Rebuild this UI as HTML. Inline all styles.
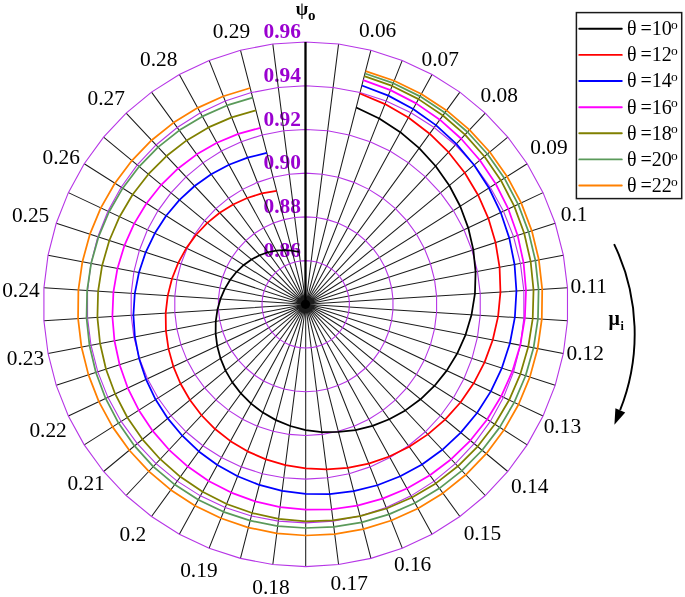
<!DOCTYPE html>
<html><head><meta charset="utf-8"><title>Polar plot</title>
<style>html,body{margin:0;padding:0;background:#fff}svg{display:block}</style></head>
<body>
<svg width="685" height="597" viewBox="0 0 685 597">
<rect width="685" height="597" fill="#fff"/>
<g font-family="'Liberation Serif', serif" font-size="21.4" font-weight="bold" fill="#9a00d0" text-anchor="end">
<text x="300.9" y="256.7">0.86</text>
<text x="300.9" y="213.0">0.88</text>
<text x="300.9" y="169.2">0.90</text>
<text x="300.9" y="125.5">0.92</text>
<text x="300.9" y="81.8">0.94</text>
<text x="300.9" y="38.1">0.96</text>
</g>
<path d="M305.7 304.3L338.57 44.07M305.7 304.3L370.93 50.24M305.7 304.3L402.26 60.42M305.7 304.3L432.06 74.44M305.7 304.3L459.88 92.09M305.7 304.3L485.26 113.09M305.7 304.3L507.81 137.10M305.7 304.3L527.17 163.75M305.7 304.3L543.04 192.62M305.7 304.3L555.16 223.24M305.7 304.3L563.35 255.15M305.7 304.3L567.48 287.83M305.7 304.3L567.48 320.77M305.7 304.3L563.35 353.45M305.7 304.3L555.16 385.36M305.7 304.3L543.04 415.98M305.7 304.3L527.17 444.85M305.7 304.3L507.81 471.50M305.7 304.3L485.26 495.51M305.7 304.3L459.88 516.51M305.7 304.3L432.06 534.16M305.7 304.3L402.26 548.18M305.7 304.3L370.93 558.36M305.7 304.3L338.57 564.53M305.7 304.3L305.70 566.60M305.7 304.3L272.83 564.53M305.7 304.3L240.47 558.36M305.7 304.3L209.14 548.18M305.7 304.3L179.34 534.16M305.7 304.3L151.52 516.51M305.7 304.3L126.14 495.51M305.7 304.3L103.59 471.50M305.7 304.3L84.23 444.85M305.7 304.3L68.36 415.98M305.7 304.3L56.24 385.36M305.7 304.3L48.05 353.45M305.7 304.3L43.92 320.77M305.7 304.3L43.92 287.83M305.7 304.3L48.05 255.15M305.7 304.3L56.24 223.24M305.7 304.3L68.36 192.62M305.7 304.3L84.23 163.75M305.7 304.3L103.59 137.10M305.7 304.3L126.14 113.09M305.7 304.3L151.52 92.09M305.7 304.3L179.34 74.44M305.7 304.3L209.14 60.42M305.7 304.3L240.47 50.24M305.7 304.3L272.83 44.07" stroke="#1c1c1c" stroke-width="1.05" fill="none"/>
<polygon points="305.70,260.58 311.18,260.93 316.57,261.96 321.79,263.65 326.76,265.99 331.40,268.93 335.63,272.43 339.38,276.43 342.61,280.88 345.26,285.69 347.28,290.79 348.64,296.11 349.33,301.56 349.33,307.04 348.64,312.49 347.28,317.81 345.26,322.91 342.61,327.72 339.38,332.17 335.63,336.17 331.40,339.67 326.76,342.61 321.79,344.95 316.57,346.64 311.18,347.67 305.70,348.02 300.22,347.67 294.83,346.64 289.61,344.95 284.64,342.61 280.00,339.67 275.77,336.17 272.02,332.17 268.79,327.72 266.14,322.91 264.12,317.81 262.76,312.49 262.07,307.04 262.07,301.56 262.76,296.11 264.12,290.79 266.14,285.69 268.79,280.88 272.02,276.43 275.77,272.43 280.00,268.93 284.64,265.99 289.61,263.65 294.83,261.96 300.22,260.93" fill="none" stroke="#b635e6" stroke-width="1.1"/>
<polygon points="305.70,216.87 316.66,217.56 327.44,219.61 337.89,223.01 347.82,227.68 357.09,233.56 365.55,240.56 373.07,248.57 379.52,257.45 384.81,267.07 388.85,277.28 391.58,287.92 392.96,298.81 392.96,309.79 391.58,320.68 388.85,331.32 384.81,341.53 379.52,351.15 373.07,360.03 365.55,368.04 357.09,375.04 347.82,380.92 337.89,385.59 327.44,388.99 316.66,391.04 305.70,391.73 294.74,391.04 283.96,388.99 273.51,385.59 263.58,380.92 254.31,375.04 245.85,368.04 238.33,360.03 231.88,351.15 226.59,341.53 222.55,331.32 219.82,320.68 218.44,309.79 218.44,298.81 219.82,287.92 222.55,277.28 226.59,267.07 231.88,257.45 238.33,248.57 245.85,240.56 254.31,233.56 263.58,227.68 273.51,223.01 283.96,219.61 294.74,217.56" fill="none" stroke="#b635e6" stroke-width="1.1"/>
<polygon points="305.70,173.15 322.14,174.18 338.32,177.27 353.98,182.36 368.88,189.37 382.79,198.20 395.48,208.70 406.75,220.70 416.43,234.03 424.37,248.46 430.43,263.77 434.53,279.72 436.59,296.07 436.59,312.53 434.53,328.88 430.43,344.83 424.37,360.14 416.43,374.57 406.75,387.90 395.48,399.90 382.79,410.40 368.88,419.23 353.98,426.24 338.32,431.33 322.14,434.42 305.70,435.45 289.26,434.42 273.08,431.33 257.42,426.24 242.52,419.23 228.61,410.40 215.92,399.90 204.65,387.90 194.97,374.57 187.03,360.14 180.97,344.83 176.87,328.88 174.81,312.53 174.81,296.07 176.87,279.72 180.97,263.77 187.03,248.46 194.97,234.03 204.65,220.70 215.92,208.70 228.61,198.20 242.52,189.37 257.42,182.36 273.08,177.27 289.26,174.18" fill="none" stroke="#b635e6" stroke-width="1.1"/>
<polygon points="305.70,129.43 327.62,130.81 349.19,134.93 370.07,141.71 389.94,151.06 408.48,162.83 425.40,176.83 440.44,192.84 453.34,210.60 463.92,229.85 472.01,250.26 477.47,271.53 480.22,293.32 480.22,315.28 477.47,337.07 472.01,358.34 463.92,378.75 453.34,398.00 440.44,415.76 425.40,431.77 408.48,445.77 389.94,457.54 370.07,466.89 349.19,473.67 327.62,477.79 305.70,479.17 283.78,477.79 262.21,473.67 241.33,466.89 221.46,457.54 202.92,445.77 186.00,431.77 170.96,415.76 158.06,398.00 147.48,378.75 139.39,358.34 133.93,337.07 131.18,315.28 131.18,293.32 133.93,271.53 139.39,250.26 147.48,229.85 158.06,210.60 170.96,192.84 186.00,176.83 202.92,162.83 221.46,151.06 241.33,141.71 262.21,134.93 283.78,130.81" fill="none" stroke="#b635e6" stroke-width="1.1"/>
<polygon points="305.70,85.72 333.10,87.44 360.06,92.58 386.17,101.07 411.00,112.75 434.18,127.46 455.33,144.96 474.12,164.97 490.26,187.18 503.48,211.23 513.59,236.75 520.41,263.34 523.85,290.58 523.85,318.02 520.41,345.26 513.59,371.85 503.48,397.37 490.26,421.42 474.12,443.63 455.33,463.64 434.18,481.14 411.00,495.85 386.17,507.53 360.06,516.02 333.10,521.16 305.70,522.88 278.30,521.16 251.34,516.02 225.23,507.53 200.40,495.85 177.22,481.14 156.07,463.64 137.28,443.63 121.14,421.42 107.92,397.37 97.81,371.85 90.99,345.26 87.55,318.02 87.55,290.58 90.99,263.34 97.81,236.75 107.92,211.23 121.14,187.18 137.28,164.97 156.07,144.96 177.22,127.46 200.40,112.75 225.23,101.07 251.34,92.58 278.30,87.44" fill="none" stroke="#b635e6" stroke-width="1.1"/>
<polygon points="305.70,42.00 338.57,44.07 370.93,50.24 402.26,60.42 432.06,74.44 459.88,92.09 485.26,113.09 507.81,137.10 527.17,163.75 543.04,192.62 555.16,223.24 563.35,255.15 567.48,287.83 567.48,320.77 563.35,353.45 555.16,385.36 543.04,415.98 527.17,444.85 507.81,471.50 485.26,495.51 459.88,516.51 432.06,534.16 402.26,548.18 370.93,558.36 338.57,564.53 305.70,566.60 272.83,564.53 240.47,558.36 209.14,548.18 179.34,534.16 151.52,516.51 126.14,495.51 103.59,471.50 84.23,444.85 68.36,415.98 56.24,385.36 48.05,353.45 43.92,320.77 43.92,287.83 48.05,255.15 56.24,223.24 68.36,192.62 84.23,163.75 103.59,137.10 126.14,113.09 151.52,92.09 179.34,74.44 209.14,60.42 240.47,50.24 272.83,44.07" fill="none" stroke="#b635e6" stroke-width="1.1"/>
<polyline points="356.21,107.58 379.23,118.58 400.31,132.20 419.17,148.13 435.55,166.02 449.28,185.52 460.20,206.25 468.24,227.82 473.35,249.83 475.57,271.90 474.94,293.65 471.55,314.73 465.56,334.79 457.21,353.53 446.73,370.66 434.40,385.98 420.50,399.27 405.34,410.40 389.23,419.27 372.51,425.82 355.48,430.04 338.48,431.96 321.84,432.08 305.70,430.10 290.32,426.02 275.96,420.12 262.83,412.59 251.09,403.63 240.90,393.49 232.37,382.39 225.55,370.60 220.50,358.37 217.22,345.94 215.65,333.56 215.75,321.46 217.42,309.85 220.47,298.94 224.77,288.86 230.21,279.77 236.60,271.78 243.76,264.99 251.50,259.46 259.60,255.21 267.89,252.26 276.16,250.57 284.23,250.09 291.95,250.74 299.08,251.92" fill="none" stroke="#000000" stroke-width="1.75" stroke-linejoin="round"/>
<polyline points="359.81,93.54 384.98,104.07 408.36,117.55 429.64,133.71 448.50,152.23 464.70,172.76 478.04,194.93 488.35,218.35 495.55,242.61 499.58,267.32 500.44,292.05 498.12,316.41 492.74,339.98 484.52,362.40 473.66,383.34 460.41,402.48 445.04,419.57 427.86,434.39 409.19,446.74 389.37,456.49 368.75,463.55 347.70,467.88 326.57,469.48 305.70,468.40 285.38,465.14 265.88,459.40 247.48,451.34 230.47,441.15 215.08,429.03 201.51,415.25 189.96,400.05 180.55,383.72 173.37,366.57 168.50,348.88 165.94,330.96 165.68,313.11 167.73,295.62 171.98,278.79 178.24,262.89 186.35,248.14 196.12,234.76 207.33,222.92 219.75,212.77 233.14,204.43 247.25,197.98 261.81,193.46 276.58,190.88" fill="none" stroke="#ff0000" stroke-width="1.75" stroke-linejoin="round"/>
<polyline points="361.88,85.50 388.32,95.64 413.11,108.93 435.88,125.13 456.30,143.93 474.07,165.01 488.96,188.00 500.75,212.52 509.31,238.14 514.55,264.46 516.42,291.04 514.85,317.46 509.92,343.26 501.85,368.03 490.81,391.40 477.02,413.03 460.76,432.58 442.32,449.79 422.03,464.42 400.25,476.28 377.33,485.23 353.68,491.17 329.67,494.06 305.70,493.90 282.13,490.87 259.32,484.94 237.62,476.26 217.35,465.01 198.81,451.42 182.28,435.73 167.76,418.41 155.62,399.54 146.03,379.44 139.08,358.44 134.87,336.89 133.40,315.14 134.79,293.55 138.95,272.49 145.67,252.30 154.81,233.29 166.16,215.74 179.51,199.91 194.61,186.00 211.19,174.22 228.96,164.71 247.61,157.59 266.83,152.91" fill="none" stroke="#0000ff" stroke-width="1.75" stroke-linejoin="round"/>
<polyline points="363.25,80.17 390.49,90.14 416.15,103.39 439.83,119.68 461.18,138.73 479.89,160.20 495.67,183.74 508.32,208.95 517.66,235.43 523.57,262.74 526.00,290.44 524.87,318.09 520.26,345.23 512.31,371.43 501.19,396.29 487.12,419.43 470.35,440.51 451.17,459.21 429.91,475.26 406.93,488.44 382.62,498.58 357.37,505.54 331.59,509.26 305.70,509.70 280.08,507.12 255.10,501.37 231.15,492.58 208.61,480.91 187.81,466.56 169.06,449.80 152.66,430.90 138.83,410.20 127.77,388.03 119.61,364.76 114.47,340.78 112.39,316.46 113.40,292.20 117.47,268.39 124.45,245.41 134.21,223.60 146.56,203.30 161.28,184.82 178.11,168.43 196.76,154.35 216.92,142.80 238.24,133.92 260.39,127.82" fill="none" stroke="#ff00ff" stroke-width="1.75" stroke-linejoin="round"/>
<polyline points="364.29,76.10 392.16,85.93 418.49,99.13 442.89,115.48 464.97,134.69 484.41,156.46 500.91,180.42 514.23,206.17 524.19,233.31 530.64,261.39 533.52,289.97 532.72,318.58 528.28,346.76 520.37,374.05 509.15,400.04 494.81,424.31 477.60,446.51 457.83,466.30 435.81,483.38 411.92,497.52 386.55,508.49 360.10,516.17 333.01,520.45 305.70,521.30 278.60,518.84 252.11,513.03 226.65,503.97 202.60,491.83 180.35,476.82 160.23,459.21 142.45,439.35 127.35,417.49 115.14,393.97 106.00,369.19 100.06,343.53 97.40,317.41 98.10,291.24 102.13,265.47 109.33,240.50 119.58,216.72 132.67,194.49 148.39,174.17 166.47,156.04 186.61,140.38 208.46,127.42 231.68,117.35 255.89,110.29" fill="none" stroke="#808000" stroke-width="1.75" stroke-linejoin="round"/>
<polyline points="364.96,73.49 393.24,83.19 420.02,96.34 444.90,112.71 467.47,132.03 487.41,153.98 504.39,178.20 518.18,204.31 528.57,231.89 535.40,260.48 538.59,289.65 537.96,318.91 533.56,347.77 525.60,375.75 514.23,402.43 499.66,427.39 482.12,450.25 461.92,470.66 439.40,488.32 414.92,502.97 388.88,514.39 361.71,522.43 333.83,526.98 305.70,528.00 277.68,526.07 250.15,520.65 223.53,511.83 198.25,499.75 174.70,484.60 153.25,466.64 134.51,445.92 118.55,423.07 105.61,398.45 95.89,372.47 89.51,345.54 86.57,318.09 87.12,290.55 91.13,263.37 98.49,236.97 109.08,211.78 122.71,188.17 139.15,166.52 158.12,147.14 179.32,130.35 202.39,116.38 226.97,105.45 252.65,97.70" fill="none" stroke="#5a9a5a" stroke-width="1.75" stroke-linejoin="round"/>
<polyline points="365.58,71.07 394.20,80.76 421.34,93.95 446.57,110.41 469.50,129.88 489.77,152.02 507.08,176.50 521.17,202.91 531.82,230.83 538.87,259.82 542.22,289.42 541.81,319.15 537.65,348.55 529.84,377.13 518.54,404.46 503.93,430.10 486.26,453.67 465.81,474.80 442.91,493.16 417.94,508.47 391.31,520.51 363.42,529.10 334.73,534.12 305.70,535.50 276.77,533.33 248.38,527.56 220.98,518.29 194.99,505.68 170.83,489.93 148.87,471.31 129.31,450.23 112.55,426.88 98.86,401.63 88.46,374.89 81.49,347.07 78.07,318.62 78.37,290.00 82.40,261.70 89.92,234.19 100.82,207.89 114.89,183.21 131.92,160.54 151.61,140.22 173.66,122.56 197.69,107.84 223.33,96.26 250.17,88.02" fill="none" stroke="#ff8000" stroke-width="1.75" stroke-linejoin="round"/>
<line x1="305.5" y1="304.3" x2="305.5" y2="42.0" stroke="#000" stroke-width="2.3"/>
<circle cx="305.5" cy="304.3" r="4.6" fill="#000"/>
<g font-family="'Liberation Serif', serif" font-size="21.4" fill="#000" text-anchor="middle">
<text x="377.6" y="37.1">0.06</text>
<text x="440.2" y="66.0">0.07</text>
<text x="499.3" y="102.3">0.08</text>
<text x="549.0" y="154.2">0.09</text>
<text x="574.2" y="220.7">0.1</text>
<text x="588.7" y="293.2">0.11</text>
<text x="585.2" y="359.5">0.12</text>
<text x="562.4" y="432.6">0.13</text>
<text x="529.8" y="493.0">0.14</text>
<text x="482.4" y="539.6">0.15</text>
<text x="412.6" y="571.4">0.16</text>
<text x="349.3" y="590.3">0.17</text>
<text x="271.0" y="593.5">0.18</text>
<text x="198.9" y="577.4">0.19</text>
<text x="132.9" y="541.2">0.2</text>
<text x="86.1" y="489.7">0.21</text>
<text x="48.1" y="436.8">0.22</text>
<text x="25.5" y="364.5">0.23</text>
<text x="20.9" y="296.9">0.24</text>
<text x="30.6" y="221.5">0.25</text>
<text x="61.3" y="164.0">0.26</text>
<text x="106.2" y="104.8">0.27</text>
<text x="158.7" y="66.0">0.28</text>
<text x="231.4" y="38.2">0.29</text>
</g>
<text x="295.8" y="14.6" font-family="'Liberation Serif', serif" font-size="18" font-weight="bold" fill="#000">ψ<tspan font-size="15" dx="-0.3" dy="5.8">o</tspan></text>
<text x="608.5" y="325.1" font-family="'Liberation Serif', serif" font-size="20" font-weight="bold" fill="#000">μ<tspan font-size="12" dx="0.6" dy="5.2">i</tspan></text>
<path d="M614.1 244.1 A206.4 206.4 0 0 1 620.1 410.2" fill="none" stroke="#000" stroke-width="1.9"/>
<polygon points="615.4,408.3 625.2,412.4 614.4,424.7" fill="#000"/>
<rect x="576.4" y="12.6" width="105.3" height="186" fill="#fff" stroke="#1a1a1a" stroke-width="1.5"/>
<g font-family="'Liberation Serif', serif" font-size="20" fill="#000">
<line x1="579.3" y1="28.8" x2="621.8" y2="28.8" stroke="#000000" stroke-width="1.9" stroke-linecap="round"/>
<text x="627.0" y="35.1">θ<tspan dx="3.9">=10</tspan><tspan font-size="13.5" dx="-0.8" dy="-6.2">o</tspan></text>
<line x1="579.3" y1="54.9" x2="621.8" y2="54.9" stroke="#ff0000" stroke-width="1.9" stroke-linecap="round"/>
<text x="627.0" y="61.2">θ<tspan dx="3.9">=12</tspan><tspan font-size="13.5" dx="-0.8" dy="-6.2">o</tspan></text>
<line x1="579.3" y1="81.0" x2="621.8" y2="81.0" stroke="#0000ff" stroke-width="1.9" stroke-linecap="round"/>
<text x="627.0" y="87.3">θ<tspan dx="3.9">=14</tspan><tspan font-size="13.5" dx="-0.8" dy="-6.2">o</tspan></text>
<line x1="579.3" y1="107.2" x2="621.8" y2="107.2" stroke="#ff00ff" stroke-width="1.9" stroke-linecap="round"/>
<text x="627.0" y="113.5">θ<tspan dx="3.9">=16</tspan><tspan font-size="13.5" dx="-0.8" dy="-6.2">o</tspan></text>
<line x1="579.3" y1="133.3" x2="621.8" y2="133.3" stroke="#808000" stroke-width="1.9" stroke-linecap="round"/>
<text x="627.0" y="139.6">θ<tspan dx="3.9">=18</tspan><tspan font-size="13.5" dx="-0.8" dy="-6.2">o</tspan></text>
<line x1="579.3" y1="159.4" x2="621.8" y2="159.4" stroke="#5a9a5a" stroke-width="1.9" stroke-linecap="round"/>
<text x="627.0" y="165.7">θ<tspan dx="3.9">=20</tspan><tspan font-size="13.5" dx="-0.8" dy="-6.2">o</tspan></text>
<line x1="579.3" y1="185.5" x2="621.8" y2="185.5" stroke="#ff8000" stroke-width="1.9" stroke-linecap="round"/>
<text x="627.0" y="191.8">θ<tspan dx="3.9">=22</tspan><tspan font-size="13.5" dx="-0.8" dy="-6.2">o</tspan></text>
</g>
</svg>
</body></html>
